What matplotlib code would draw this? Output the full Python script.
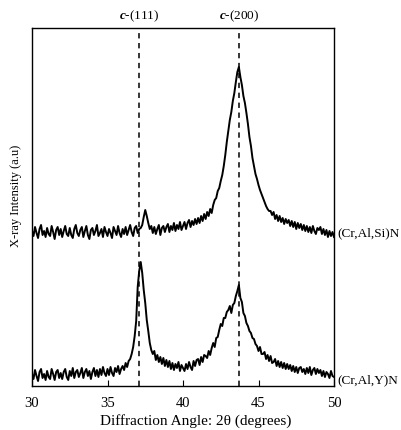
import numpy as np
import matplotlib.pyplot as plt

plt.rcParams['font.family'] = ['Liberation Serif', 'DejaVu Serif']
plt.rcParams['mathtext.fontset'] = 'custom'
plt.rcParams['mathtext.rm'] = 'Liberation Serif'
plt.rcParams['mathtext.bf'] = 'Liberation Serif:bold:italic'

# 2-theta grid, 0.1 degree steps from 30 to 50
two_theta = np.arange(300, 501) / 10

# (Cr,Al,Si)N pattern, already offset upward
si_counts = [
    152, 147, 156, 150, 145, 154, 158, 148, 152, 146,
    155, 149, 147, 157, 151, 144, 153, 156, 148, 154,
    146, 152, 157, 149, 147, 155, 148, 145, 154, 158,
    150, 147, 153, 156, 146, 152, 157, 148, 144, 153,
    155, 148, 152, 158, 147, 150, 154, 146, 156, 151,
    147, 154, 150, 145, 156, 152, 148, 157, 150, 146,
    154, 149, 156, 148, 153, 158, 151, 147, 155, 157,
    150, 154, 155, 158, 166, 173, 167, 160, 154, 157,
    150, 156, 149, 154, 158, 148, 155, 157, 151, 156,
    159, 151, 157, 153, 160, 152, 158, 154, 161, 153,
    157, 161, 154, 160, 163, 156, 162, 158, 164, 159,
    165, 160, 167, 162, 169, 164, 171, 167, 174, 170,
    178, 183, 185, 192, 195, 202, 208, 217, 228, 241,
    252, 263, 271, 282, 290, 301, 311, 316, 306, 298,
    287, 280, 270, 259, 246, 237, 225, 217, 209, 204,
    198, 193, 189, 185, 181, 177, 174, 172, 172, 168,
    171, 164, 168, 162, 167, 161, 165, 159, 164, 160,
    163, 157, 162, 156, 161, 154, 160, 155, 159, 153,
    158, 152, 157, 151, 156, 150, 157, 152, 149, 155,
    153, 156, 149, 154, 148, 153, 146, 152, 147, 151,
    146,
]

# (Cr,Al,Y)N pattern
y_counts = [
    9, 4, 13, 7, 2, 11, 14, 5, 9, 3,
    12, 6, 4, 14, 9, 3, 11, 13, 5, 10,
    4, 11, 14, 6, 3, 12, 7, 15, 5, 11,
    13, 6, 10, 15, 5, 11, 14, 7, 12, 4,
    11, 15, 7, 13, 6, 14, 8, 16, 10, 7,
    14, 8, 16, 10, 7, 15, 11, 17, 9, 14,
    17, 13, 20, 16, 22, 24, 29, 36, 47, 62,
    96, 112, 121, 110, 93, 80, 63, 52, 40, 33,
    29, 32, 23, 28, 21, 26, 19, 25, 17, 23,
    16, 22, 14, 20, 13, 19, 15, 21, 12, 18,
    15, 12, 19, 14, 21, 16, 13, 22, 17, 23,
    24, 18, 26, 21, 28, 27, 25, 32, 28, 35,
    40, 36, 45, 46, 53, 59, 57, 65, 65, 71,
    73, 77, 70, 78, 80, 87, 92, 98, 85, 81,
    70, 67, 60, 57, 52, 50, 45, 44, 39, 37,
    32, 36, 29, 29, 31, 24, 28, 22, 27, 20,
    21, 24, 17, 22, 16, 21, 15, 20, 14, 19,
    14, 18, 12, 17, 11, 16, 10, 15, 16, 11,
    14, 9, 15, 10, 16, 8, 13, 15, 9, 14,
    10, 13, 7, 12, 6, 11, 9, 5, 12, 7,
    6,
]

ref_lines = [37.1, 43.7]
ref_labels = [r'$\mathbf{c}$-(111)', r'$\mathbf{c}$-(200)']
sample_names = ['(Cr,Al,Si)N', '(Cr,Al,Y)N']
name_levels = [150, 3]

fig = plt.figure(figsize=(4.01, 4.30), dpi=100)
ax = fig.add_axes([32 / 401, 44 / 430, 302 / 401, 358 / 430])

ax.plot(two_theta, si_counts, color='black', lw=1.4)
ax.plot(two_theta, y_counts, color='black', lw=1.4)

for pos, lab in zip(ref_lines, ref_labels):
    ax.axvline(pos, color='black', lw=1.1, ls=(0, (3.5, 3)))
    ax.text(pos, 1.032, lab, transform=ax.get_xaxis_transform(),
            ha='center', va='center', fontsize=9.5)

for name, level in zip(sample_names, name_levels):
    ax.text(1.012, level, name, transform=ax.get_yaxis_transform(),
            ha='left', va='center', fontsize=9.5)

ax.set_xlim(30, 50)
ax.set_ylim(-3, 355)
ax.set_xticks([30, 35, 40, 45, 50])
ax.set_yticks([])
ax.tick_params(axis='x', direction='in', length=4, labelsize=10.5, pad=8)
for sp in ax.spines.values():
    sp.set_linewidth(1.0)

ax.set_xlabel('Diffraction Angle: 2θ (degrees)', fontsize=11, va='center')
ax.xaxis.set_label_coords(0.543, -0.098)
ax.set_ylabel('X-ray Intensity (a.u)', fontsize=9, va='center')
ax.yaxis.set_label_coords(-0.053, 0.531)

fig.savefig('out.png', dpi=100)
